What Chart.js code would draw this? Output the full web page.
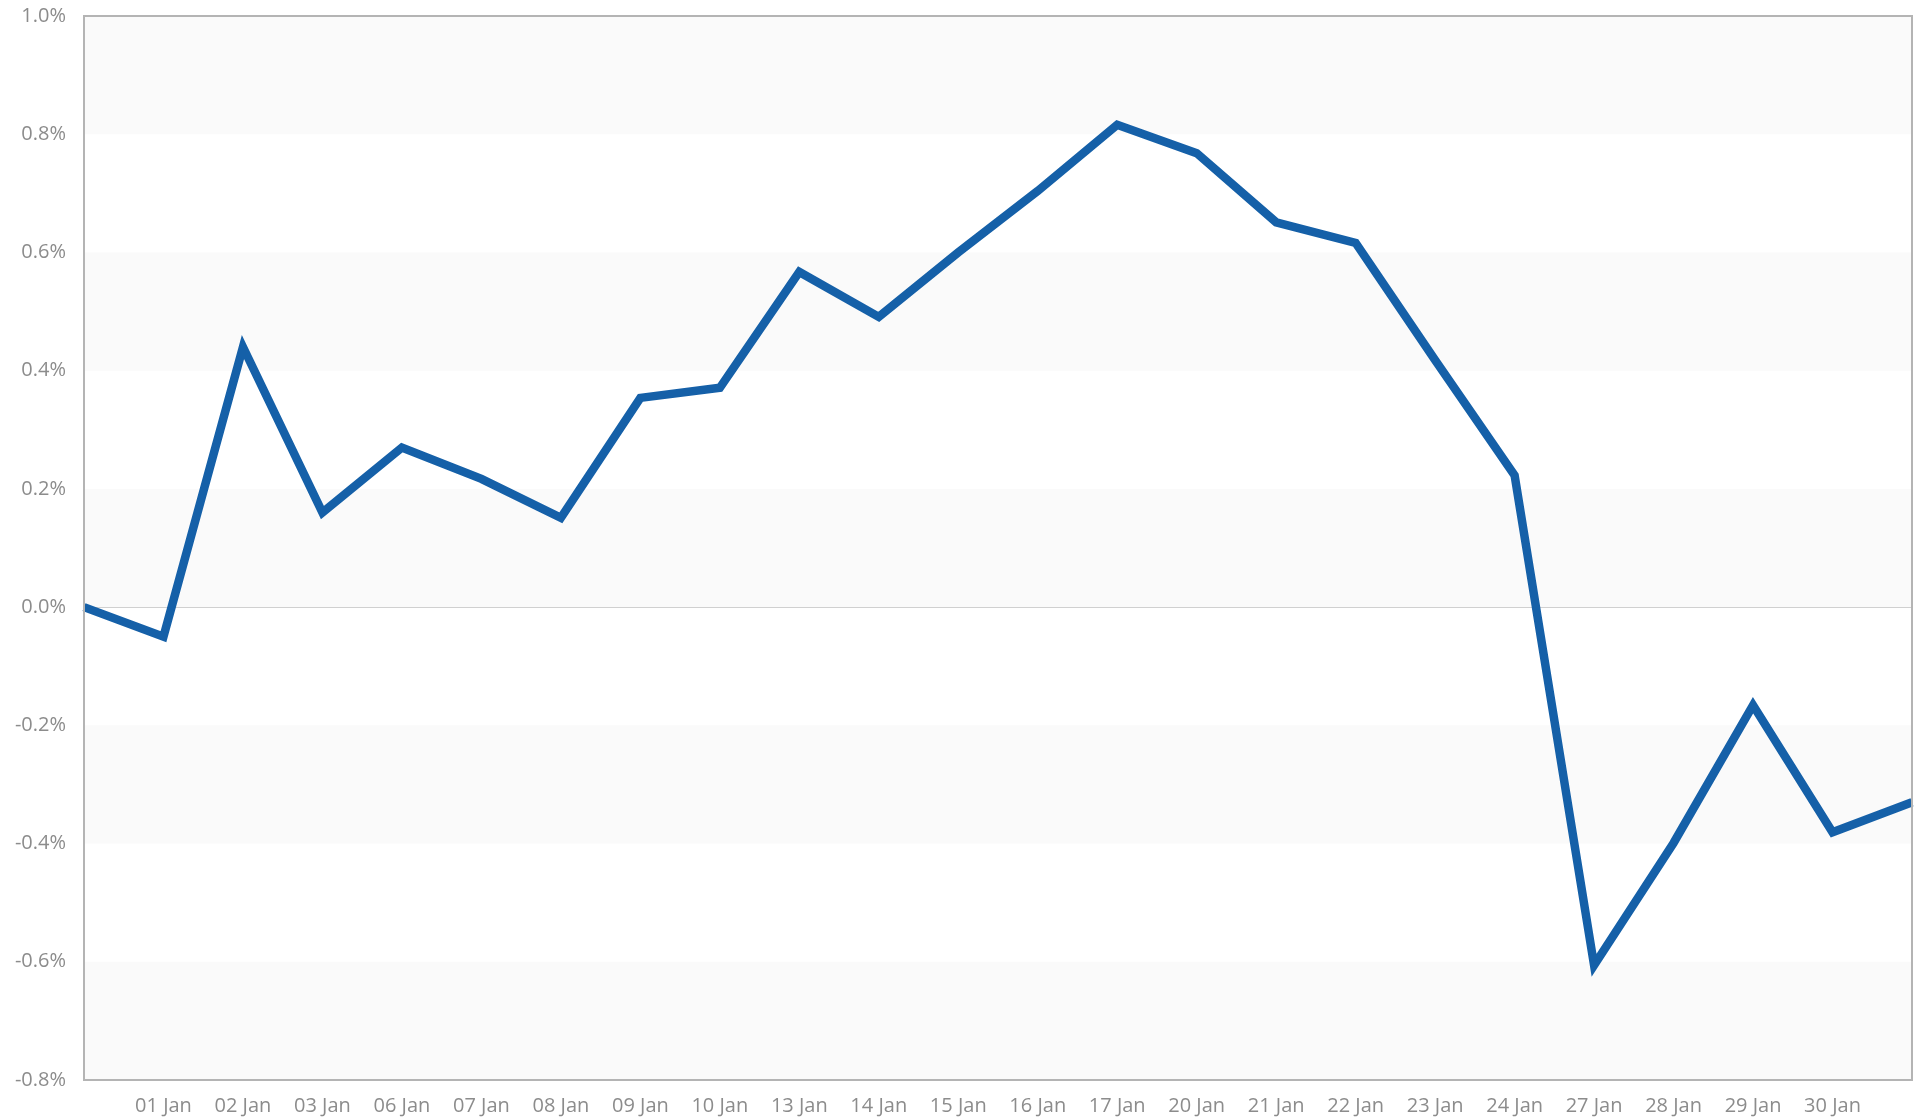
<!DOCTYPE html>
<html>
<head>
<meta charset="utf-8">
<script src="https://cdn.jsdelivr.net/npm/chart.js@4"></script>
<style>
  html, body { margin: 0; padding: 0; background: #fff; }
  #wrap { width: 1917px; height: 1120px; }
</style>
</head>
<body>
<div id="wrap"><canvas id="chart"></canvas></div>
<script>
// ---------------------------------------------------------------------------
// Data (daily change, %)
// ---------------------------------------------------------------------------
const dayLabels = ["", "01 Jan", "02 Jan", "03 Jan", "06 Jan", "07 Jan", "08 Jan", "09 Jan", "10 Jan",
  "13 Jan", "14 Jan", "15 Jan", "16 Jan", "17 Jan", "20 Jan", "21 Jan", "22 Jan", "23 Jan",
  "24 Jan", "27 Jan", "28 Jan", "29 Jan", "30 Jan", ""];
const changePct = [0.0, -0.05, 0.44, 0.16, 0.27, 0.217, 0.151, 0.354, 0.371,
  0.567, 0.491, 0.600, 0.704, 0.816, 0.768, 0.651, 0.616, 0.418,
  0.223, -0.606, -0.399, -0.166, -0.381, -0.33];
const yMin = -0.8, yMax = 1.0, yStep = 0.2;

const TICK_COLOR = "#8c8c8c";
const FONT = { family: "'Open Sans', sans-serif", size: 20 };

// alternating bands + frame round the plot area
const framePlugin = {
  id: "frame",
  beforeDatasetsDraw(chart) {
    const { ctx, chartArea: a, scales: { y } } = chart;
    ctx.save();
    let i = 0;
    for (let v = yMax; v > yMin + 1e-9; v -= yStep, i++) {
      if (i % 2 !== 0) continue;
      const top = y.getPixelForValue(v);
      const bot = y.getPixelForValue(v - yStep);
      ctx.fillStyle = "#fafafa";
      ctx.fillRect(a.left, top, a.right - a.left, bot - top);
    }
    const z = Math.round(y.getPixelForValue(0)) + 0.5;
    ctx.strokeStyle = "#d0d0d0";
    ctx.lineWidth = 1;
    ctx.beginPath();
    ctx.moveTo(a.left, z);
    ctx.lineTo(a.right, z);
    ctx.stroke();
    ctx.restore();
  },
  afterDatasetsDraw(chart) {
    const { ctx, chartArea: a } = chart;
    ctx.save();
    ctx.strokeStyle = "#b4b4b4";
    ctx.lineWidth = 2;
    ctx.strokeRect(a.left, a.top, a.right - a.left, a.bottom - a.top);
    ctx.restore();
  }
};

new Chart(document.getElementById("chart"), {
  type: "line",
  data: {
    labels: dayLabels,
    datasets: [{
      data: changePct,
      borderColor: "#1560a8",
      borderWidth: 8.5,
      borderJoinStyle: "miter",
      pointRadius: 0,
      tension: 0,
      fill: false,
    }]
  },
  options: {
    responsive: true,
    maintainAspectRatio: false,
    animation: false,
    layout: { padding: { left: 0, right: 5, top: 16, bottom: 0 } },
    plugins: { legend: { display: false }, tooltip: { enabled: false } },
    scales: {
      x: {
        offset: false,
        grid: { display: false, drawTicks: false },
        border: { display: false },
        ticks: { autoSkip: false, maxRotation: 0, color: TICK_COLOR, font: FONT, padding: 14 },
        afterFit(scale) {
          scale.height = 40;
          scale.paddingLeft = 0;
          scale.paddingRight = 0;
        },
      },
      y: {
        min: yMin,
        max: yMax,
        grid: { display: false, drawTicks: false },
        border: { display: false },
        ticks: {
          stepSize: yStep,
          color: TICK_COLOR,
          font: FONT,
          padding: 18,
          callback: v => v.toFixed(1) + "%",
        },
        afterFit(scale) {
          scale.width = 84;
          scale.paddingTop = 0;
          scale.paddingBottom = 0;
        },
      }
    }
  },
  plugins: [framePlugin]
});
</script>
</body>
</html>
